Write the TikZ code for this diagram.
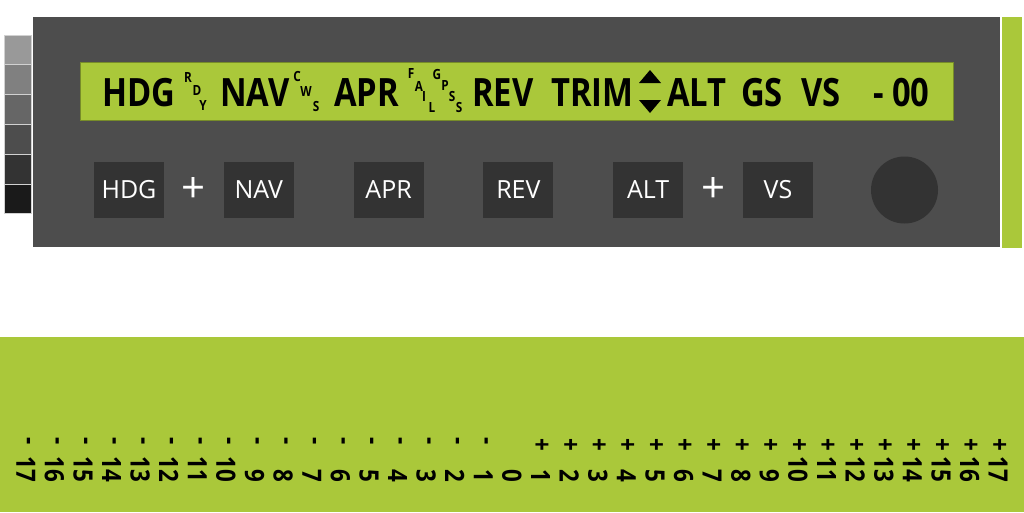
\documentclass[tikz,border=0pt]{standalone}
\usepackage{fontspec}
\setmainfont{Open Sans}
\newfontfamily\lcdfont{Open Sans}[FakeStretch=0.84]
\usetikzlibrary{positioning}
\definecolor{lcdgreen}{HTML}{AAC83A}
\definecolor{panelgray}{HTML}{4D4D4D}
\definecolor{btngray}{HTML}{333333}
\tikzset{
  lcdw/.style={anchor=base west, inner sep=0pt, font=\lcdfont\bfseries\fontsize{39}{39}\selectfont},
  lcdl/.style={inner sep=0pt, font=\lcdfont\bfseries\fontsize{14}{14}\selectfont},
  btn/.style={fill=btngray, minimum width=70pt, minimum height=56pt, inner sep=0pt, outer sep=0pt, text=white, font=\fontsize{25}{25}\selectfont},
  plusm/.style={text=white, inner sep=0pt, font=\fontsize{42}{42}\selectfont},
  knob/.style={circle, fill=btngray, minimum size=67pt, inner sep=0pt, outer sep=0pt},
  swatch/.style={draw=black!18, line width=0.8pt, minimum width=27pt, minimum height=29.8pt, inner sep=0pt},
  sgn/.style={rotate=-90, anchor=west, inner sep=0pt, font=\lcdfont\bfseries\fontsize{26.6}{26.6}\selectfont},
  num/.style={rotate=-90, anchor=east, inner sep=0pt, font=\lcdfont\bfseries\fontsize{26.6}{26.6}\selectfont},
}

\begin{document}
\begin{tikzpicture}[x=1pt, y=-1pt, node distance=59.8pt]

\useasboundingbox (0,0) rectangle (1024,512);
\fill[white] (0,0) rectangle (1024,512);

% grey scale strip
\foreach \c [count=\i] in {999999,808080,666666,4D4D4D,333333,1A1A1A}{
  \definecolor{swc}{HTML}{\c}
  \node[swatch, fill=swc] (sw\i) at (17.5,{35+29.8*(\i-0.5)}) {};
}

% panel and display
\node[fill=panelgray, minimum width=967pt, minimum height=230pt, inner sep=0pt] (panel) at (516.5,132) {};
\node[fill=lcdgreen, minimum width=20pt, minimum height=231pt, inner sep=0pt] (bar) at (1011.5,132.5) {};
\node[fill=lcdgreen, draw=lcdgreen!70!black, line width=0.6pt, minimum width=873pt, minimum height=58pt, inner sep=0pt] (lcd) at (516.5,91) {};

\foreach \x/\w [count=\i] in {102/HDG,220/NAV,334/APR,472/REV,551/TRIM,667/ALT,741/GS,801/VS,873/- 00}
  \node[lcdw] (w\i) at (\x,106) {\w};

\foreach \x/\y/\l [count=\i] in {188/77/R,197/90/D,203/105/Y,297/76/C,306/91/W,316/106/S,
    411/73/F,419/86/A,424/96/I,432/107/L,437/74/G,445/85/P,452/96/S,459/107/S}
  \node[lcdl] (l\i) at (\x,\y) {\l};

% trim arrows
\fill (639,83) -- (661,83) -- (650,70) -- cycle;
\fill (639,100) -- (661,100) -- (650,113) -- cycle;

% buttons
\node[btn] (bhdg) at (129,190) {HDG};
\node[btn, right=of bhdg] (bnav) {NAV};
\node[btn, right=of bnav] (bapr) {APR};
\node[btn, right=of bapr] (brev) {REV};
\node[btn, right=of brev] (balt) {ALT};
\node[btn, right=of balt] (bvs) {VS};
\node[knob, right=58pt of bvs] (knob) {};
\path (bhdg) -- node[plusm] (p1) {+} (bnav);
\path (balt) -- node[plusm] (p2) {+} (bvs);

% trim scale
\node[fill=lcdgreen, minimum width=1024pt, minimum height=175pt, inner sep=0pt] (band) at (512,424.5) {};
\foreach \n in {1,...,17}{
  \node[sgn] (ms\n) at ({512-28.6*\n},437) {-};
  \node[num] (m\n) at ({512-28.6*\n},482) {\n};
  \node[sgn] (ps\n) at ({512+28.6*\n},438) {+};
  \node[num] (p\n) at ({512+28.6*\n},482) {\n};
}
\node[num] (z0) at (512,482) {0};

\end{tikzpicture}
\end{document}
